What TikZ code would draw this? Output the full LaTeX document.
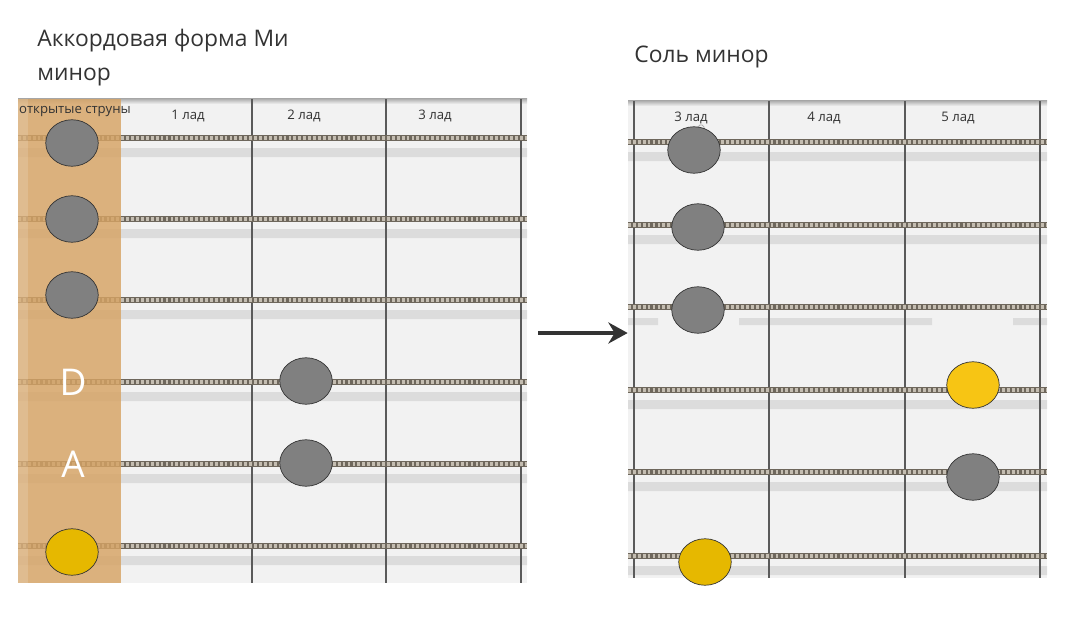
\documentclass[tikz,border=0pt]{standalone}
\usepackage{fontspec}
\setmainfont{Open Sans}
\usetikzlibrary{shapes.geometric, arrows.meta}
\definecolor{boardbg}{HTML}{F2F2F2}
\definecolor{bandgray}{HTML}{DCDCDC}
\definecolor{woodtan}{RGB}{214,163,100}
\definecolor{fretgray}{HTML}{5A5A5A}
\definecolor{ropedark}{HTML}{6E675C}
\definecolor{ropelight}{HTML}{C4BDB1}
\definecolor{dotgray}{HTML}{808080}
\definecolor{dotgold}{HTML}{E6B800}
\definecolor{dotyellow}{HTML}{F7C514}
\definecolor{textgray}{HTML}{333333}
\begin{document}
\begin{tikzpicture}[x=0.02cm, y=-0.02cm,
    board/.style={draw=none, fill=boardbg, rectangle, inner sep=0pt},
    band/.style={fill=bandgray, draw=none},
    fret/.style={draw=fretgray, line width=1.6pt},
    rope/.style={draw=ropedark, line width=3.6pt},
    ropetwist/.style={draw=ropelight, line width=2.2pt, dash pattern=on 1.6pt off 1.2pt},
    fretlabel/.style={font=\fontsize{7.5}{9}\selectfont, text=textgray},
    title/.style={font=\fontsize{13}{19}\selectfont, text=textgray, align=left, anchor=north west, inner sep=0pt},
    note/.style={ellipse, draw=black!80, line width=0.4pt, minimum width=1.05cm, minimum height=0.93cm, inner sep=0pt},
    stringname/.style={font=\fontsize{21}{21}\selectfont, text=white}]
    \useasboundingbox (0,0) rectangle (1079,616);

    % titles
    \node[title] (title1) at (37,29) {Аккордовая форма Ми\\минор};
    \node[title] (title2) at (634,46) {Соль минор};

    % left board (open strings, E minor shape)
    \node[board, minimum width=10.18cm, minimum height=9.7cm] (board1) at (272.5,340.5) {};
    \shade[top color=gray!70, bottom color=boardbg] (18,98) rectangle (527,104);
    \fill[band] (18,148) rectangle (527,157) (18,229) rectangle (527,238) (18,310) rectangle (527,319)
        (18,392) rectangle (527,401) (18,474) rectangle (527,483) (18,556) rectangle (527,565);
    \draw[fret] (252,99) -- (252,583) (386,99) -- (386,583) (521,99) -- (521,583);
    \draw[rope] (18,138) -- (527,138) (18,219) -- (527,219) (18,300) -- (527,300)
        (18,382) -- (527,382) (18,464) -- (527,464) (18,546) -- (527,546);
    \draw[ropetwist] (18,138) -- (527,138) (18,219) -- (527,219) (18,300) -- (527,300)
        (18,382) -- (527,382) (18,464) -- (527,464) (18,546) -- (527,546);
    \fill[woodtan, fill opacity=0.82] (28,99) rectangle (121,583);
    \fill[woodtan!85!white, fill opacity=0.82] (18,99) rectangle (28,583);

    \node[fretlabel] (open1) at (75,111) {открытые струны};
    \node[fretlabel] (fret1) at (188,116) {1 лад};
    \node[fretlabel] (fret2) at (304,116) {2 лад};
    \node[fretlabel] (fret3) at (435,116) {3 лад};

    \node[note, fill=dotgray] (e1) at (72,143) {};
    \node[note, fill=dotgray] (b1) at (72,219) {};
    \node[note, fill=dotgray] (g1) at (72,295) {};
    \node[stringname] (dname) at (73,382) {D};
    \node[stringname] (aname) at (73,464) {A};
    \node[note, fill=dotgray] (d1) at (306,381) {};
    \node[note, fill=dotgray] (a1) at (306,463) {};
    \node[note, fill=dotgold] (low1) at (72,552) {};

    % right board (3rd to 5th fret, G minor)
    \node[board, minimum width=8.38cm, minimum height=9.56cm] (board2) at (837.5,339) {};
    \shade[top color=gray!70, bottom color=boardbg] (628,100) rectangle (1047,106);
    \fill[band] (628,152) rectangle (1047,161) (628,235) rectangle (1047,244)
        (628,318) rectangle (658,325) (739,318) rectangle (932,325) (1013,318) rectangle (1047,325)
        (628,400) rectangle (1047,409) (628,482) rectangle (1047,491) (628,566) rectangle (1047,575);
    \draw[fret] (634,101) -- (634,578) (769,101) -- (769,578) (905,101) -- (905,578) (1040,101) -- (1040,578);
    \draw[rope] (628,142) -- (1047,142) (628,225) -- (1047,225) (628,307) -- (1047,307)
        (628,390) -- (1047,390) (628,472) -- (1047,472) (628,556) -- (1047,556);
    \draw[ropetwist] (628,142) -- (1047,142) (628,225) -- (1047,225) (628,307) -- (1047,307)
        (628,390) -- (1047,390) (628,472) -- (1047,472) (628,556) -- (1047,556);

    \node[fretlabel] (fret3b) at (691,118) {3 лад};
    \node[fretlabel] (fret4b) at (824,118) {4 лад};
    \node[fretlabel] (fret5b) at (958,118) {5 лад};
    \draw[gray!70, line width=0.4pt, rounded corners=1pt] (698,125) rectangle (704,134);

    \node[note, fill=dotgray] (e2) at (694,150) {};
    \node[note, fill=dotgray] (b2) at (698,227) {};
    \node[note, fill=dotgray] (g2) at (698,310) {};
    \node[note, fill=dotyellow] (d2) at (973,385) {};
    \node[note, fill=dotgray] (a2) at (973,477) {};
    \node[note, fill=dotgold] (low2) at (705,562) {};

    % arrow between the two shapes
    \coordinate (arrowstart) at (538,333);
    \draw[-{Stealth[length=11pt, width=12pt]}, line width=2.2pt, draw=textgray] (arrowstart) -- (arrowstart -| board2.west);
\end{tikzpicture}
\end{document}
